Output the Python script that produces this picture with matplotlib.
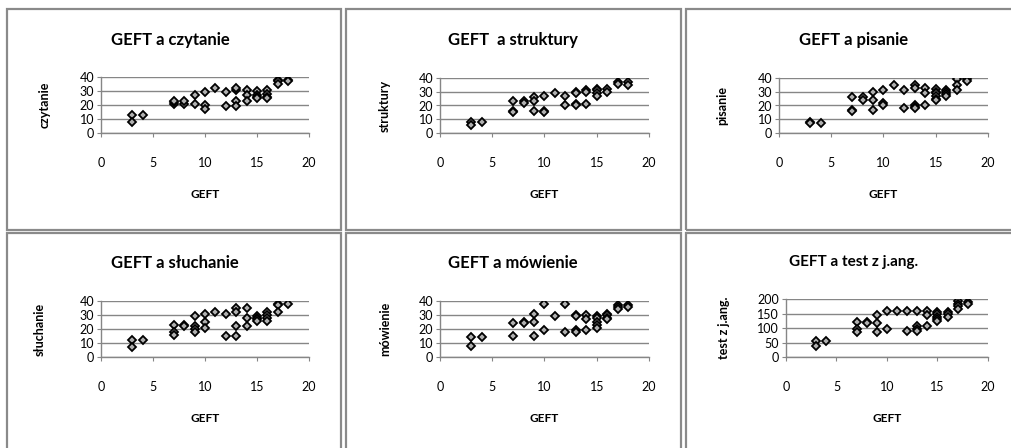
import matplotlib.pyplot as plt
from matplotlib.patches import Rectangle

plt.rcParams['font.family'] = ['Lato', 'DejaVu Sans']

# GEFT scores (x) and the matching results for each test
czyt_x = [3, 3, 4, 7, 7, 7, 8, 8, 9, 9, 10, 10, 10, 11, 12, 12, 13, 13, 13, 13,
          14, 14, 14, 15, 15, 15, 15, 16, 16, 16, 16, 17, 17, 17, 18, 18]
czyt_y = [13, 8, 13, 21, 22, 23, 21, 23, 27, 21, 29, 20, 17, 32, 29, 19, 31, 32, 23, 19,
          31, 27, 23, 30, 27, 26, 25, 31, 28, 26, 25, 38, 37, 35, 38, 37]

strk_x = [3, 3, 4, 7, 7, 7, 8, 8, 9, 9, 9, 10, 10, 10, 11, 12, 12, 13, 13, 13, 13,
          14, 14, 14, 15, 15, 15, 15, 16, 16, 17, 17, 18, 18]
strk_y = [8, 6, 8, 23, 16, 15, 23, 22, 26, 23, 16, 27, 16, 15, 29, 27, 20, 30, 29, 21, 20,
          31, 30, 21, 32, 31, 29, 27, 32, 30, 37, 36, 37, 35]

pisa_x = [3, 3, 4, 7, 7, 7, 8, 8, 9, 9, 9, 10, 10, 10, 11, 12, 12, 13, 13, 13, 13, 13,
          14, 14, 14, 15, 15, 15, 15, 15, 15, 16, 16, 16, 16, 17, 17, 17, 18, 18]
pisa_y = [8, 7, 7, 26, 17, 16, 26, 24, 30, 24, 17, 31, 22, 20, 35, 31, 18, 35, 33, 20, 19, 18,
          33, 29, 20, 32, 30, 29, 27, 25, 24, 31, 30, 28, 27, 39, 35, 31, 39, 38]

sluch_x = [3, 3, 4, 7, 7, 7, 8, 8, 9, 9, 9, 9, 10, 10, 10, 11, 12, 12, 13, 13, 13, 13,
           14, 14, 14, 15, 15, 15, 15, 16, 16, 16, 16, 17, 17, 17, 18]
sluch_y = [12, 7, 12, 23, 18, 16, 23, 22, 29, 22, 20, 18, 31, 25, 21, 32, 31, 15, 35, 32, 22, 15,
           35, 28, 22, 29, 28, 27, 26, 32, 30, 28, 26, 38, 37, 32, 38]

mow_x = [3, 3, 4, 7, 7, 8, 8, 9, 9, 9, 10, 10, 11, 12, 12, 13, 13, 13, 13,
         14, 14, 14, 15, 15, 15, 15, 15, 16, 16, 16, 16, 17, 17, 17, 18, 18]
mow_y = [14, 8, 14, 24, 15, 25, 24, 31, 25, 15, 38, 19, 29, 38, 18, 30, 29, 19, 18,
         30, 27, 19, 29, 28, 25, 23, 21, 31, 30, 28, 27, 37, 36, 34, 37, 36]

ang_x = [3, 3, 4, 7, 7, 7, 8, 8, 9, 9, 9, 10, 10, 11, 12, 12, 13, 13, 13, 13,
         14, 14, 14, 15, 15, 15, 15, 15, 16, 16, 16, 17, 17, 17, 17, 18, 18]
ang_y = [54, 37, 54, 119, 95, 87, 121, 116, 144, 116, 87, 157, 98, 157, 157, 91, 158, 106, 98, 89,
         160, 144, 106, 154, 147, 139, 131, 124, 154, 147, 138, 193, 183, 175, 165, 188, 184]

titles = ['GEFT a czytanie', 'GEFT  a struktury', 'GEFT a pisanie',
          'GEFT a słuchanie', 'GEFT a mówienie', 'GEFT a test z j.ang.']
ylabels = ['czytanie', 'struktury', 'pisanie', 'słuchanie', 'mówienie', 'test z j.ang.']
xs = [czyt_x, strk_x, pisa_x, sluch_x, mow_x, ang_x]
ys = [czyt_y, strk_y, pisa_y, sluch_y, mow_y, ang_y]
yticks = [[0, 10, 20, 30, 40]] * 5 + [[0, 50, 100, 150, 200]]

W, H = 1012, 448
fig = plt.figure(figsize=(W / 100, H / 100), dpi=100)

# panel frames (pixels: left, top, right, bottom)
frames = [(7, 9, 341, 230), (346, 9, 681, 230), (686, 9, 1020, 230),
          (7, 233, 341, 452), (346, 233, 681, 452), (686, 233, 1020, 452)]
# plot areas (pixels: left, top, right, bottom)
areas = [(101, 77, 309, 133), (440, 78, 649, 133), (779, 78, 988, 133),
         (101, 301, 309, 357), (440, 301, 649, 357), (786, 299, 988, 357)]
title_pos = [(170, 40), (513, 40), (854, 40), (175, 263), (513, 263), (854, 262)]
ylab_x = [45, 385, 722, 40, 385, 724]

for fr in frames:
    l, t, r, b = fr
    fig.patches.append(Rectangle((l / W, 1 - b / H), (r - l) / W, (b - t) / H,
                                 transform=fig.transFigure, fill=False,
                                 edgecolor='#8a8a8a', linewidth=1.6))

for i in range(6):
    l, t, r, b = areas[i]
    ax = fig.add_axes([l / W, 1 - b / H, (r - l) / W, (b - t) / H])
    ax.plot(xs[i], ys[i], linestyle='none', marker='D', ms=3.6,
            mfc='#b0b0b0', mec='black', mew=1.3, zorder=3)
    ax.set_xlim(0, 20)
    ax.set_xticks([0, 5, 10, 15, 20])
    ax.set_ylim(yticks[i][0], yticks[i][-1])
    ax.set_yticks(yticks[i])
    ax.grid(axis='y', color='#868686', linewidth=1.0)
    for s in ['top', 'right']:
        ax.spines[s].set_visible(False)
    for s in ['left', 'bottom']:
        ax.spines[s].set_color('#868686')
        ax.spines[s].set_linewidth(1.0)
    ax.tick_params(axis='x', direction='out', length=3, color='#868686',
                   pad=14, labelsize=9)
    ax.tick_params(axis='y', direction='out', length=3, color='#868686',
                   pad=2, labelsize=9)
    ax.set_xlabel('GEFT', fontsize=8.5, fontweight='bold', labelpad=15)
    tx, ty = title_pos[i]
    fs = 11 if i == 5 else 12
    fig.text(tx / W, 1 - ty / H, titles[i], ha='center', va='center',
             fontsize=fs, fontweight='bold')
    fig.text(ylab_x[i] / W, 1 - (b + t) / 2 / H, ylabels[i], ha='center',
             va='center', rotation=90, fontsize=9, fontweight='bold')

fig.savefig('out.png', dpi=100)
